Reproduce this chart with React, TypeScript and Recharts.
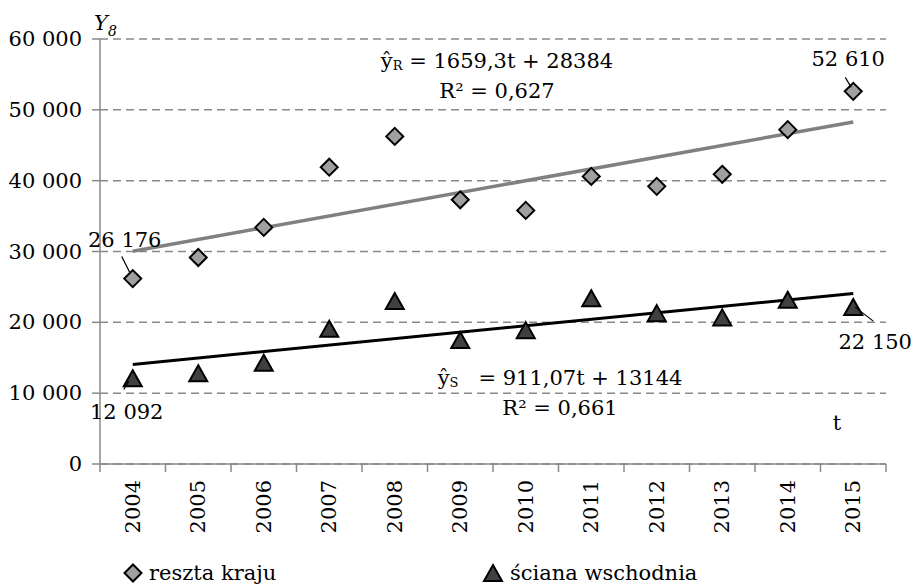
import { ComposedChart, Scatter, Line, XAxis, YAxis, CartesianGrid, Customized } from 'recharts';

const years = ['2004', '2005', '2006', '2007', '2008', '2009', '2010', '2011', '2012', '2013', '2014', '2015'];
// Y8 – reszta kraju (diamonds) and ściana wschodnia (triangles)
const restOfCountry = [26176, 29150, 33400, 41900, 46250, 37300, 35800, 40600, 39200, 40900, 47200, 52610];
const eastWall = [12092, 12800, 14300, 19100, 23000, 17500, 18900, 23400, 21300, 20700, 23200, 22150];
// linear trend values at first and last year, as drawn
const trendRest = [30043, 48296];
const trendEast = [14055, 24077];
const yTicks = [0, 10000, 20000, 30000, 40000, 50000, 60000];

const last = years.length - 1;
const data = years.map((year, i) => ({
  year,
  r: restOfCountry[i],
  s: eastWall[i],
  tr: i === 0 ? trendRest[0] : i === last ? trendRest[1] : null,
  ts: i === 0 ? trendEast[0] : i === last ? trendEast[1] : null,
}));

// Liberation Serif doesn't resolve reliably in the sandbox, DejaVu Serif does
const FONT = 'DejaVu Serif';
const fmt = (v: number) => String(v).replace(/\B(?=(\d{3})+(?!\d))/g, ' ');

// label placement for the annotated points (offsets from the marker centre)
const restLabels: Record<string, any> = {
  '2004': { dx: -8, dy: -32, l: [-11, -22, -3, -6] },
  '2015': { dx: -5, dy: -25, l: [-8, -14, -2, -4] },
};
const eastLabels: Record<string, any> = {
  '2004': { dx: -6, dy: 41, l: [-9, 11, -4, 3] },
  '2015': { dx: 22, dy: 42, l: [2, 0, 20, 14] },
};

function PointLabel({ cx, cy, value, cfg }: any) {
  if (!cfg) return null;
  return (
    <g>
      <line x1={cx + cfg.l[0]} y1={cy + cfg.l[1]} x2={cx + cfg.l[2]} y2={cy + cfg.l[3]} stroke="#000" strokeWidth={1.2} />
      <text x={cx + cfg.dx} y={cy + cfg.dy} textAnchor="middle" fontSize={21} fontFamily={FONT} fill="#000">
        {fmt(value)}
      </text>
    </g>
  );
}

function DiamondShape(p: any) {
  const { cx, cy, payload } = p;
  if (cx == null || cy == null) return null;
  const d = 8.5;
  return (
    <g>
      <path d={`M${cx},${cy - d}L${cx + d},${cy}L${cx},${cy + d}L${cx - d},${cy}Z`} fill="#a0a0a0" stroke="#000" strokeWidth={2} />
      <PointLabel cx={cx} cy={cy} value={payload.r} cfg={restLabels[payload.year]} />
    </g>
  );
}

function TriangleShape(p: any) {
  const { cx, cy, payload } = p;
  if (cx == null || cy == null) return null;
  return (
    <g>
      <path d={`M${cx},${cy - 8}L${cx + 9},${cy + 8}L${cx - 9},${cy + 8}Z`} fill="#404040" stroke="#000" strokeWidth={2} />
      <PointLabel cx={cx} cy={cy} value={payload.s} cfg={eastLabels[payload.year]} />
    </g>
  );
}

function YearTick(p: any) {
  const { x, y, payload, index } = p;
  const half = payload && payload.offset ? payload.offset : 32.75;
  const axisY = y - 16;
  return (
    <g>
      <line x1={x - half} y1={axisY} x2={x - half} y2={axisY + 8} stroke="#888" strokeWidth={1.5} />
      {index === last && <line x1={x + half} y1={axisY} x2={x + half} y2={axisY + 8} stroke="#888" strokeWidth={1.5} />}
      <text x={x} y={y} transform={`rotate(-90 ${x} ${y})`} textAnchor="end" dominantBaseline="central" fontSize={21} fontFamily={FONT} fill="#000">
        {payload.value}
      </text>
    </g>
  );
}

function ValueTick(p: any) {
  const { x, y, payload } = p;
  return (
    <text x={x} y={y} textAnchor="end" dominantBaseline="central" fontSize={21} fontFamily={FONT} fill="#000">
      {fmt(payload.value)}
    </text>
  );
}

function Annotations() {
  const t = { fontFamily: FONT, fill: '#000' };
  return (
    <g>
      <text x={94} y={30} fontSize={21} fontStyle="italic" {...t}>
        Y<tspan fontSize={14} dy={6}>8</tspan>
      </text>
      <text x={497} y={68} textAnchor="middle" fontSize={21} {...t}>
        ŷ<tspan fontSize={13} dy={2}>R</tspan>
        <tspan dy={-2}> = 1659,3t + 28384</tspan>
      </text>
      <text x={497} y={98} textAnchor="middle" fontSize={21} {...t}>R² = 0,627</text>
      <text x={560} y={385} textAnchor="middle" fontSize={21} {...t}>
        ŷ<tspan fontSize={13} dy={2}>S</tspan>
        <tspan dy={-2}>{'\u00a0\u00a0 = 911,07t + 13144'}</tspan>
      </text>
      <text x={560} y={415} textAnchor="middle" fontSize={21} {...t}>R² = 0,661</text>
      <text x={837} y={430} textAnchor="middle" fontSize={21} {...t}>t</text>

      <path d="M133,564.5L141.5,573L133,581.5L124.5,573Z" fill="#a0a0a0" stroke="#000" strokeWidth={2} />
      <text x={149} y={580} fontSize={21} {...t}>reszta kraju</text>
      <path d="M493,565L502,581L484,581Z" fill="#404040" stroke="#000" strokeWidth={2} />
      <text x={510} y={580} fontSize={21} {...t}>ściana wschodnia</text>
    </g>
  );
}

export default function App() {
  return (
    <div style={{ position: 'absolute', left: 0, top: 0, width: 915, height: 586, background: '#fff' }}>
      <ComposedChart width={915} height={586} data={data} margin={{ top: 39, right: 29, bottom: 0, left: 0 }}>
        <CartesianGrid vertical={false} stroke="#888" strokeDasharray="8 5" strokeWidth={1.5} />
        <XAxis
          dataKey="year"
          scale="band"
          height={122}
          tickLine={false}
          tickSize={8}
          tickMargin={8}
          axisLine={{ stroke: '#888', strokeWidth: 1.5 }}
          tick={<YearTick />}
          interval={0}
        />
        <YAxis
          width={100}
          domain={[0, 60000]}
          ticks={yTicks}
          tickSize={8}
          tickMargin={10}
          axisLine={{ stroke: '#888', strokeWidth: 1.5 }}
          tickLine={{ stroke: '#888', strokeWidth: 1.5 }}
          tick={<ValueTick />}
        />
        <Scatter dataKey="r" shape={<DiamondShape />} isAnimationActive={false} />
        <Scatter dataKey="s" shape={<TriangleShape />} isAnimationActive={false} />
        <Line dataKey="tr" stroke="#808080" strokeWidth={3.5} dot={false} connectNulls isAnimationActive={false} />
        <Line dataKey="ts" stroke="#000" strokeWidth={3} dot={false} connectNulls isAnimationActive={false} />
        <Customized component={Annotations} />
      </ComposedChart>
    </div>
  );
}
